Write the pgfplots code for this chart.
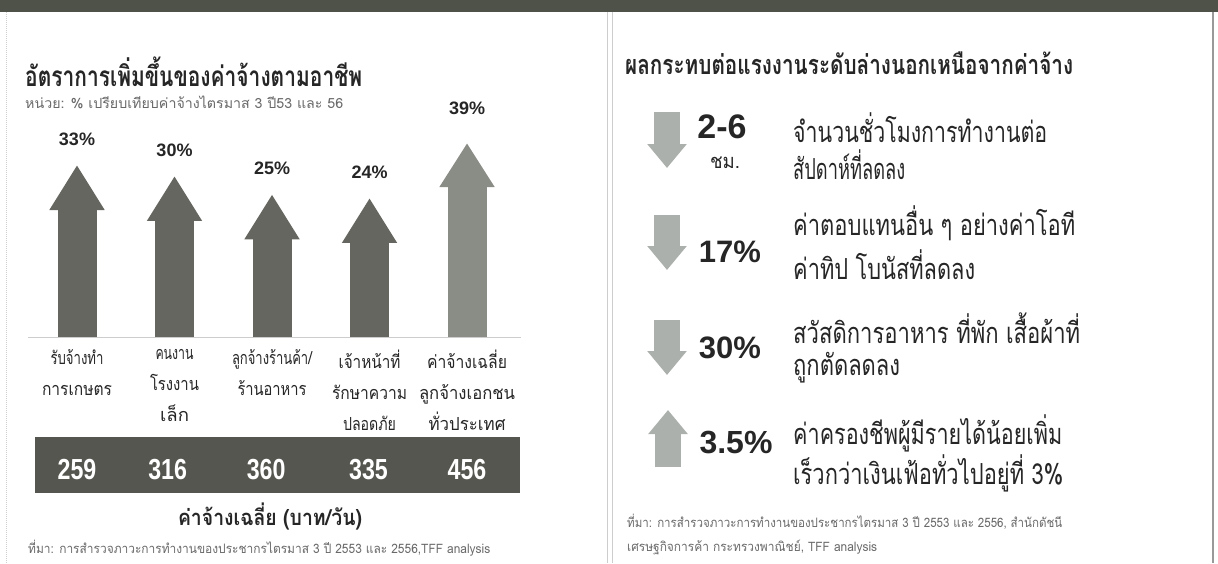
\documentclass[border=0pt]{standalone}
\usepackage{pgfplots}
\pgfplotsset{compat=1.18}
\usepackage{fontspec}
\usepackage{graphicx}
\usetikzlibrary{arrows.meta}
\setmainfont{Liberation Sans}
\newfontfamily\thai[Script=Thai]{Loma}
\definecolor{topband}{RGB}{78,82,72}
\definecolor{arrowdark}{RGB}{102,102,96}
\definecolor{arrowlight}{RGB}{138,140,134}
\definecolor{banddark}{RGB}{86,86,80}
\definecolor{iconc}{RGB}{172,176,172}
\definecolor{txt}{RGB}{38,38,38}
\definecolor{srcgray}{RGB}{105,105,105}
\definecolor{border}{RGB}{205,205,205}
\newcommand{\fs}[1]{\fontsize{#1}{#1}\selectfont}
\newcommand{\tw}[2]{\resizebox{#1}{\height}{#2}}
\begin{document}
\begin{tikzpicture}
\path[use as bounding box] (0pt,0pt) rectangle (1218pt,-563pt);
\fill[white] (0pt,0pt) rectangle (1218pt,-563pt);
\fill[topband] (0pt,0pt) rectangle (1218pt,-12pt);
\draw[border, densely dotted, line width=1pt] (6pt,-12pt) -- (6pt,-563pt);
\draw[border, line width=1pt] (607pt,-12pt) -- (607pt,-563pt);
\draw[border, line width=1pt] (612pt,-12pt) -- (612pt,-563pt);
\draw[gray!80, line width=1.5pt] (1213pt,-12pt) -- (1213pt,-563pt);

% ---- left panel texts
\node[anchor=west, inner sep=0pt, text=txt, font=\thai\bfseries\fs{28}] at (25pt,-72pt) {\tw{337pt}{อัตราการเพิ่มขึ้นของค่าจ้างตามอาชีพ}};
\node[anchor=west, inner sep=0pt, text=srcgray, font=\thai\fs{14}] at (25pt,-102pt) {\tw{318pt}{หน่วย: \% เปรียบเทียบค่าจ้างไตรมาส 3 ปี53 และ 56}};
\node[anchor=center, inner sep=0pt, text=txt, font=\thai\bfseries\fs{22}] at (270pt,-516pt) {\tw{184pt}{ค่าจ้างเฉลี่ย (บาท/วัน)}};
\node[anchor=west, inner sep=0pt, text=srcgray, font=\thai\fs{13}] at (28pt,-548pt) {\tw{462pt}{ที่มา: การสำรวจภาวะการทำงานของประชากรไตรมาส 3 ปี 2553 และ 2556,TFF analysis}};

% ---- left chart: arrows
\begin{axis}[at={(28.25pt,-337.3pt)}, anchor=south west, scale only axis,
  width=492.4pt, height=216.3pt, xmin=-0.5, xmax=4.55, ymin=-14, ymax=45,
  clip=false, axis x line*=bottom, axis y line=none,
  /pgf/number format/assume math mode=true,
  x axis line style={-, draw=border, line width=1pt},
  xtick={0,1,2,3,4}, xtick style={draw=none},
  xticklabels={
    {\tw{53pt}{รับจ้างทำ}\\\tw{70pt}{การเกษตร}},
    {\tw{38pt}{คนงาน}\\\tw{49pt}{โรงงาน}\\\tw{29pt}{เล็ก}},
    {\tw{80pt}{ลูกจ้างร้านค้า/}\\\tw{69pt}{ร้านอาหาร}},
    {\tw{62pt}{เจ้าหน้าที่}\\\tw{75pt}{รักษาความ}\\\tw{53pt}{ปลอดภัย}},
    {\tw{80pt}{ค่าจ้างเฉลี่ย}\\\tw{96pt}{ลูกจ้างเอกชน}\\\tw{77pt}{ทั่วประเทศ}}},
  xticklabel style={align=center, anchor=north, inner sep=0pt, yshift=-12pt,
    font=\thai\fontsize{18}{31}\selectfont, text=txt},
]
\addplot[draw=arrowdark, line width=39pt, -{Triangle[width=52pt,length=45pt]},
  quiver={u=0, v=\thisrow{pct}+14}] table[x=x, y expr=-14] {
x pct
0 33
1 30
2 25
3 24
};
\addplot[draw=arrowlight, line width=39pt, -{Triangle[width=52pt,length=44pt]},
  quiver={u=0, v=\thisrow{pct}+14}] table[x=x, y expr=-14] {
x pct
4 39
};
\addplot[draw=none, mark=none, point meta=y,
  nodes near coords={\pgfmathprintnumber[assume math mode=true]{\pgfplotspointmeta}\%},
  every node near coord/.style={anchor=south, inner sep=0pt, yshift=19pt,
    font=\bfseries\fs{18}, text=txt}] coordinates {(0,33) (1,30) (2,25) (3,24)};
\addplot[draw=none, mark=none, point meta=y,
  nodes near coords={\pgfmathprintnumber[assume math mode=true]{\pgfplotspointmeta}\%},
  every node near coord/.style={anchor=south, inner sep=0pt, yshift=28pt,
    font=\bfseries\fs{18}, text=txt}] coordinates {(4,39)};
\end{axis}

% ---- wage band
\begin{axis}[at={(35pt,-493pt)}, anchor=south west, scale only axis,
  width=485pt, height=56pt, xmin=-0.431, xmax=4.544, ymin=-1, ymax=1,
  axis line style={draw=none}, ticks=none,
  axis background/.style={fill=banddark}, clip=false]
\addplot[draw=none, mark=none, point meta=explicit,
  nodes near coords={\scalebox{0.8}[1]{\pgfmathprintnumber[assume math mode=true]{\pgfplotspointmeta}}},
  every node near coord/.style={anchor=center, inner sep=0pt, yshift=-5pt,
    font=\bfseries\fs{29}, text=white}]
  coordinates {(0,0) [259] (0.93,0) [316] (1.94,0) [360] (2.99,0) [335] (4,0) [456]};
\end{axis}

% ---- right panel
\begin{axis}[at={(612pt,-563pt)}, anchor=south west, scale only axis,
  width=601pt, height=551pt, xmin=612, xmax=1213, ymin=12, ymax=563,
  y dir=reverse, hide axis, clip=false]
\addplot[draw=iconc, line width=26pt, -{Triangle[width=38pt,length=24pt]},
  quiver={u=0, v=\thisrow{v}}] table[x=x, y=y] {
x y v
667 112 56
667 215 55
667 320 55
668 467 -57
};
\node[anchor=west, inner sep=0pt, text=txt, font=\thai\bfseries\fs{27}] at (axis cs:625,63) {\tw{448pt}{ผลกระทบต่อแรงงานระดับล่างนอกเหนือจากค่าจ้าง}};
\node[inner sep=0pt, text=txt, font=\bfseries\fs{34}] at (axis cs:722,127) {2-6};
\node[inner sep=0pt, text=txt, font=\thai\fs{20}] at (axis cs:725,163) {\tw{30pt}{ชม.}};
\node[inner sep=0pt, text=txt, font=\bfseries\fs{31}] at (axis cs:730,252) {17\%};
\node[inner sep=0pt, text=txt, font=\bfseries\fs{31}] at (axis cs:730,348) {30\%};
\node[inner sep=0pt, text=txt, font=\bfseries\fs{32}] at (axis cs:736,442) {3.5\%};
\begin{scope}[every node/.style={anchor=west, inner sep=0pt, text=txt, font=\thai\fs{29}}]
\node at (axis cs:793,128) {\tw{254pt}{จำนวนชั่วโมงการทำงานต่อ}};
\node at (axis cs:793,165) {\tw{112pt}{สัปดาห์ที่ลดลง}};
\node at (axis cs:793,223) {\tw{282pt}{ค่าตอบแทนอื่น ๆ อย่างค่าโอที}};
\node at (axis cs:793,265) {\tw{182pt}{ค่าทิป โบนัสที่ลดลง}};
\node at (axis cs:793,328) {\tw{287pt}{สวัสดิการอาหาร ที่พัก เสื้อผ้าที่}};
\node at (axis cs:793,368) {\tw{107pt}{ถูกตัดลดลง}};
\node at (axis cs:793,433) {\tw{269pt}{ค่าครองชีพผู้มีรายได้น้อยเพิ่ม}};
\node at (axis cs:793,473) {\tw{270pt}{เร็วกว่าเงินเฟ้อทั่วไปอยู่ที่ 3\%}};
\end{scope}
\node[anchor=west, inner sep=0pt, text=srcgray, font=\thai\fs{13}] at (axis cs:627,522) {\tw{435pt}{ที่มา: การสำรวจภาวะการทำงานของประชากรไตรมาส 3 ปี 2553 และ 2556, สำนักดัชนี}};
\node[anchor=west, inner sep=0pt, text=srcgray, font=\thai\fs{13}] at (axis cs:627,547) {\tw{250pt}{เศรษฐกิจการค้า กระทรวงพาณิชย์, TFF analysis}};
\end{axis}
\end{tikzpicture}
\end{document}
